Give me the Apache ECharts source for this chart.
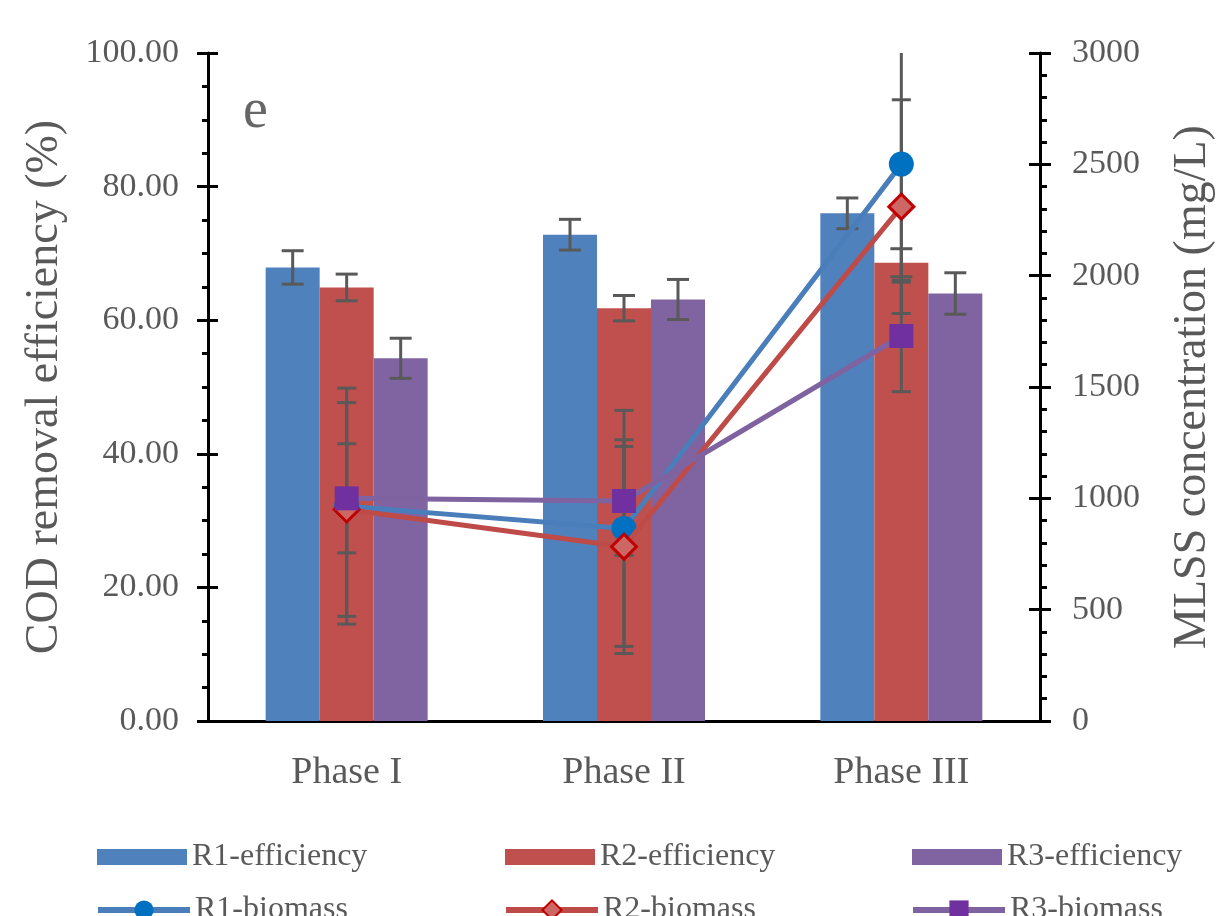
<!DOCTYPE html>
<html>
<head>
<meta charset="utf-8">
<script src="https://cdn.jsdelivr.net/npm/echarts@6/dist/echarts.min.js"></script>
<style>
html,body{margin:0;padding:0;background:#fff;}
#chart{width:1216px;height:916px;}
</style>
</head>
<body>
<div id="chart"></div>
<script>
// ---- data ----
const categories = ['Phase I', 'Phase II', 'Phase III'];
const r1Eff = [67.9, 72.8, 76.0];
const r1EffErr = [2.5, 2.3, 2.3];
const r2Eff = [64.9, 61.8, 68.6];
const r2EffErr = [2.0, 1.9, 2.1];
const r3Eff = [54.3, 63.1, 64.0];
const r3EffErr = [3.0, 3.0, 3.1];
const r1Bio = [965, 865, 2501];
const r1BioErr = [530, 530, 530];
const r2Bio = [950, 783, 2310];
const r2BioErr = [480, 480, 480];
const r3Bio = [1000, 988, 1729];
const r3BioErr = [245, 245, 250];
const leftAxis = {min: 0, max: 100, interval: 20};
const rightAxis = {min: 0, max: 3000, interval: 500};
const effNames = ['R1-efficiency', 'R2-efficiency', 'R3-efficiency'];
const bioNames = ['R1-biomass', 'R2-biomass', 'R3-biomass'];

// ---- style ----
const FONT = '"Liberation Serif", "Times New Roman", serif';
const TXT = '#595959';
const ERR = '#595959';
const BAR_W = 54;
const C1 = '#4f81bd', C2 = '#c0504d', C3 = '#8064a2';
const legendX = [92, 500, 907];

const effData = [];
[[r1Eff, r1EffErr], [r2Eff, r2EffErr], [r3Eff, r3EffErr]].forEach((p, k) => {
  categories.forEach((c, i) => effData.push([i, p[0][i], p[1][i], k]));
});
const bioData = [];
[[r1Bio, r1BioErr], [r2Bio, r2BioErr], [r3Bio, r3BioErr]].forEach((p) => {
  categories.forEach((c, i) => bioData.push([i, p[0][i], p[1][i]]));
});

function errGroup(x, yTop, yBot, cap, drawTopCap) {
  const st = {stroke: ERR, lineWidth: 3};
  const ch = [{type: 'line', shape: {x1: x, y1: yTop, x2: x, y2: yBot}, style: st}];
  if (drawTopCap) ch.push({type: 'line', shape: {x1: x - cap / 2, y1: yTop, x2: x + cap / 2, y2: yTop}, style: st});
  ch.push({type: 'line', shape: {x1: x - cap / 2, y1: yBot, x2: x + cap / 2, y2: yBot}, style: st});
  return {type: 'group', children: ch};
}

function effErr(params, api) {
  const c = api.value(0), v = api.value(1), e = api.value(2), k = api.value(3);
  const t = api.coord([c, v + e]);
  const b = api.coord([c, v - e]);
  const x = t[0] + (k - 1) * BAR_W;
  return errGroup(x, t[1], b[1], 22, true);
}
function bioErr(params, api) {
  const c = api.value(0), v = api.value(1), e = api.value(2);
  const hiV = Math.min(v + e, rightAxis.max);
  const t = api.coord([c, hiV]);
  const b = api.coord([c, v - e]);
  return errGroup(t[0], t[1], b[1], 19, v + e <= rightAxis.max);
}

const axLine = {show: true, lineStyle: {color: '#000', width: 3}};
const tickStyle = {color: '#000', width: 3};

const legends = [];
effNames.forEach((n, i) => legends.push({
  data: [n], left: legendX[i], top: 836, itemWidth: 90, itemHeight: 16, icon: 'rect',
  textStyle: {fontFamily: FONT, fontSize: 32, color: TXT}
}));
bioNames.forEach((n, i) => legends.push({
  data: [n], left: legendX[i] - 2, top: 889, itemWidth: 92, itemHeight: 24,
  lineStyle: {width: 6},
  textStyle: {fontFamily: FONT, fontSize: 32, color: TXT}
}));

const chart = echarts.init(document.getElementById('chart'));
chart.setOption({
  animation: false,
  backgroundColor: '#fff',
  grid: {left: 208, right: 176, top: 53, bottom: 195, outerBoundsMode: 'none', containLabel: false},
  legend: legends,
  xAxis: [
    {
      type: 'category', data: categories, position: 'bottom',
      axisLine: axLine, axisTick: {show: false},
      axisLabel: {fontFamily: FONT, fontSize: 38, color: TXT, margin: 33}
    },
    {
      type: 'category', data: categories, position: 'top',
      axisLine: axLine, axisTick: {show: false}, axisLabel: {show: false}
    }
  ],
  yAxis: [
    {
      type: 'value', position: 'left', min: leftAxis.min, max: leftAxis.max, interval: leftAxis.interval,
      axisLine: axLine,
      axisTick: {show: true, inside: false, length: 11, lineStyle: tickStyle},
      minorTick: {show: true, splitNumber: 4, length: 6, lineStyle: tickStyle},
      splitLine: {show: false},
      axisLabel: {fontFamily: FONT, fontSize: 34, color: TXT, margin: 29, formatter: v => v.toFixed(2)},
      name: 'COD removal efficiency (%)', nameLocation: 'middle', nameGap: 140, nameRotate: 90,
      nameTextStyle: {fontFamily: FONT, fontSize: 46, color: TXT}
    },
    {
      type: 'value', position: 'right', min: rightAxis.min, max: rightAxis.max, interval: rightAxis.interval,
      axisLine: axLine,
      axisTick: {show: true, inside: false, length: 11, lineStyle: tickStyle},
      minorTick: {show: true, splitNumber: 5, length: 7, lineStyle: tickStyle},
      splitLine: {show: false},
      axisLabel: {fontFamily: FONT, fontSize: 34, color: TXT, margin: 32, formatter: v => String(v)},
      name: 'MLSS concentration (mg/L)', nameLocation: 'middle', nameGap: 130, nameRotate: 90,
      nameTextStyle: {fontFamily: FONT, fontSize: 46, color: TXT}
    },
    {
      type: 'value', position: 'left', min: leftAxis.min, max: leftAxis.max, interval: leftAxis.interval,
      axisLine: {show: false}, axisLabel: {show: false}, splitLine: {show: false},
      axisTick: {show: true, inside: true, length: 10, lineStyle: tickStyle}
    },
    {
      type: 'value', position: 'right', min: rightAxis.min, max: rightAxis.max, interval: rightAxis.interval,
      axisLine: {show: false}, axisLabel: {show: false}, splitLine: {show: false},
      axisTick: {show: true, inside: true, length: 11, lineStyle: tickStyle}
    }
  ],
  graphic: [
    {type: 'text', left: 243, top: 84, z: 100,
     style: {text: 'e', fontFamily: FONT, fontSize: 56, fill: '#666'}}
  ],
  series: [
    {name: 'R1-efficiency', type: 'bar', data: r1Eff, yAxisIndex: 0, barWidth: BAR_W, barGap: '0%', itemStyle: {color: C1}, z: 1},
    {name: 'R2-efficiency', type: 'bar', data: r2Eff, yAxisIndex: 0, barWidth: BAR_W, barGap: '0%', itemStyle: {color: C2}, z: 1},
    {name: 'R3-efficiency', type: 'bar', data: r3Eff, yAxisIndex: 0, barWidth: BAR_W, barGap: '0%', itemStyle: {color: C3}, z: 1},
    {type: 'custom', yAxisIndex: 0, data: effData, renderItem: effErr, encode: {x: 0, y: 1}, z: 2, silent: true},
    {type: 'custom', yAxisIndex: 1, data: bioData, renderItem: bioErr, encode: {x: 0, y: 1}, z: 3, silent: true},
    {name: 'R1-biomass', type: 'line', data: r1Bio, yAxisIndex: 1, symbol: 'circle', symbolSize: 25,
     lineStyle: {color: '#4a7ebb', width: 5}, itemStyle: {color: '#0070c0'}, z: 4},
    {name: 'R2-biomass', type: 'line', data: r2Bio, yAxisIndex: 1, symbol: 'diamond', symbolSize: 25,
     lineStyle: {color: '#be4b48', width: 5}, itemStyle: {color: '#cd6764', borderColor: '#c00000', borderWidth: 3}, z: 5},
    {name: 'R3-biomass', type: 'line', data: r3Bio, yAxisIndex: 1, symbol: 'rect', symbolSize: 24,
     lineStyle: {color: '#7f63a1', width: 5}, itemStyle: {color: '#7030a0'}, z: 6}
  ]
});
</script>
</body>
</html>
